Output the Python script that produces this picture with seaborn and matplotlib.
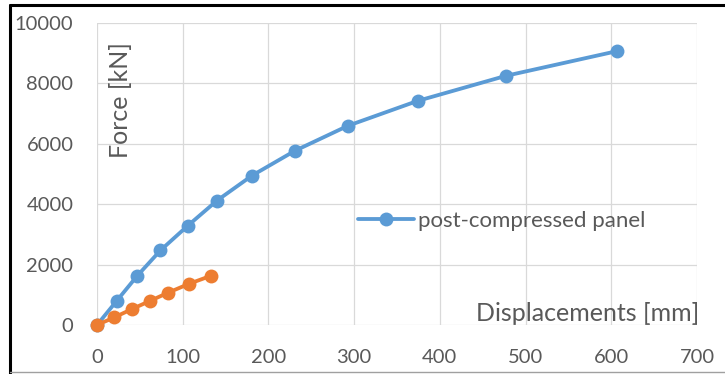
import pandas as pd
import seaborn as sns
import matplotlib.pyplot as plt
from matplotlib.lines import Line2D

# values
post_disp = [0, 23, 47, 74, 106, 140, 181, 231, 293, 374, 477, 607]
post_force = [0, 800, 1630, 2470, 3290, 4120, 4950, 5770, 6600, 7420, 8250, 9070]
ref_disp = [0, 20, 41, 62, 83, 107, 133]
ref_force = [0, 250, 530, 800, 1070, 1360, 1630]

x_ticks = [0, 100, 200, 300, 400, 500, 600, 700]
y_ticks = [0, 2000, 4000, 6000, 8000, 10000]

blue = '#5B9BD5'
orange = '#ED7D31'
text_grey = '#595959'

sns.set_style('white')
plt.rcParams['font.family'] = ['Lato', 'DejaVu Sans']

post = pd.DataFrame({'disp': post_disp, 'force': post_force})
ref = pd.DataFrame({'disp': ref_disp, 'force': ref_force})

fig = plt.figure(figsize=(7.25, 3.74), dpi=100)
ax = fig.add_axes([97 / 725, 1 - 325 / 374, 600 / 725, 302 / 374])

sns.lineplot(data=post, x='disp', y='force', ax=ax, color=blue, marker='o',
             markersize=10, markeredgewidth=0, linewidth=2.75,
             label='post-compressed panel', zorder=3, clip_on=False)
sns.lineplot(data=ref, x='disp', y='force', ax=ax, color=orange, marker='o',
             markersize=10, markeredgewidth=0, linewidth=2.75, zorder=4,
             clip_on=False)

ax.set_xlim(0, 700)
ax.set_ylim(0, 10000)
ax.set_xticks(x_ticks)
ax.set_yticks(y_ticks)
ax.grid(True, color='#D9D9D9', linewidth=0.9)
for s in ax.spines.values():
    s.set_visible(False)
ax.tick_params(length=0, labelsize=14.5, labelcolor=text_grey)
ax.tick_params(axis='x', pad=17)
ax.tick_params(axis='y', pad=17)

# axis titles sit inside the plot area
ax.set_xlabel('Displacements [mm]', fontsize=18, color=text_grey,
              ha='right', va='bottom')
ax.xaxis.set_label_coords(1.003, 0.0)
ax.set_ylabel('Force [kN]', fontsize=18, color=text_grey,
              ha='center', va='center')
ax.yaxis.set_label_coords(0.04, 0.745)

ax.legend(loc='center left', bbox_to_anchor=(0.435, 0.344), frameon=False,
          fontsize=16, labelcolor=text_grey, handlelength=2.5,
          handletextpad=0.2, borderpad=0, borderaxespad=0)

# frame lines around the picture
fig.add_artist(Line2D([10 / 725, 1], [1 - 5 / 374] * 2, color='black', lw=2.2))
fig.add_artist(Line2D([9.5 / 725] * 2, [0, 1 - 5 / 374], color='black', lw=2.2))
fig.add_artist(Line2D([10 / 725, 1], [2 / 374] * 2, color='#A0A0A0', lw=1))

fig.savefig('out.png', dpi=100)
